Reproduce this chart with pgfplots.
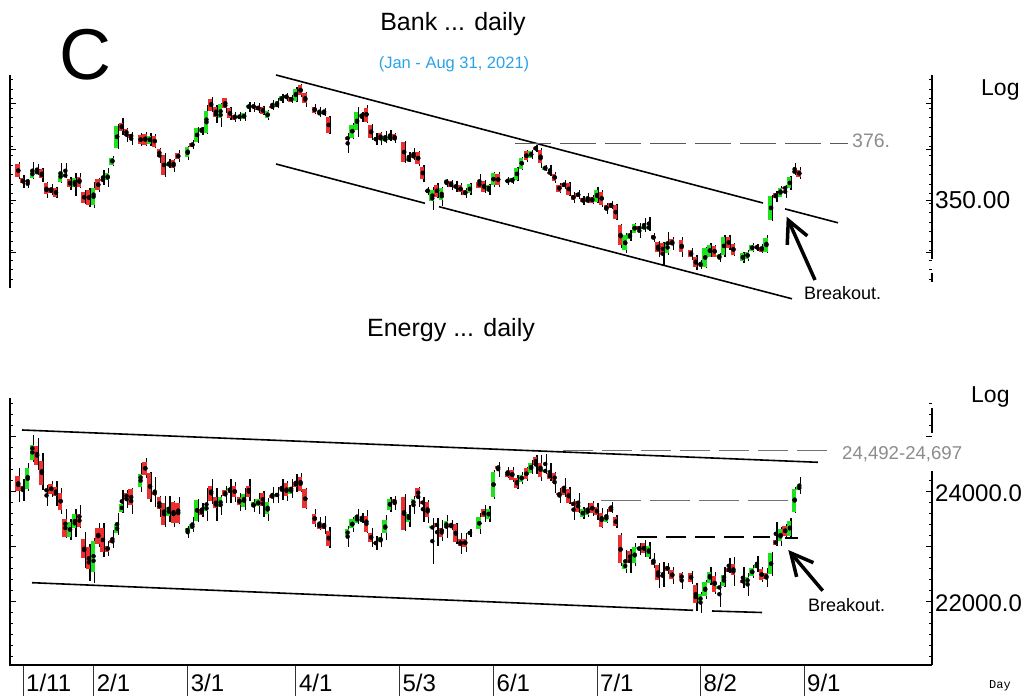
\documentclass[border=0pt]{standalone}
\usepackage{pgfplots}
\pgfplotsset{compat=1.18}
\usepackage{pgfplotstable}
\usetikzlibrary{arrows.meta}
\usepackage{fontspec}
\setmainfont{Liberation Sans}
\newfontfamily\daymono{Liberation Mono}
\definecolor{cred}{RGB}{236,48,48}
\definecolor{cgreen}{RGB}{30,226,30}
\definecolor{lblue}{RGB}{41,163,232}
\definecolor{lgray}{RGB}{140,140,140}

\pgfplotstableread{
i O H L C
-1 366.9 367.8 359.9 361.0
0 360.3 361.8 355.8 357.9
1 359.3 359.9 355.5 358.4
2 360.3 367.8 359.9 364.2
3 362.6 366.9 361.8 363.7
4 364.5 365.3 358.4 360.3
5 357.9 358.4 351.1 352.7
6 355.5 357.7 352.4 353.2
7 355.5 356.0 351.1 351.6
8 358.7 367.3 357.9 363.4
9 361.4 367.3 360.3 361.8
10 359.9 361.0 354.7 356.3
11 356.3 362.6 352.0 360.5
12 361.0 362.6 355.8 356.3
13 353.9 354.7 348.0 348.7
14 354.7 355.5 346.8 347.6
15 347.6 358.7 346.4 355.5
16 359.9 360.5 353.9 354.7
17 359.9 364.2 357.1 359.0
18 359.5 365.0 356.3 362.6
19 366.6 371.0 366.2 370.0
20 374.5 385.8 374.1 385.1
21 386.3 388.9 380.7 382.6
22 383.6 384.2 377.6 380.4
23 381.1 382.0 376.0 379.5
25 380.7 381.5 375.7 376.3
26 381.1 382.3 375.7 376.0
27 376.3 381.5 375.7 380.4
28 380.4 381.1 374.7 375.2
29 374.1 374.7 367.4 370.5
30 371.3 372.1 361.0 361.8
31 366.2 369.4 365.0 367.4
32 368.9 369.4 363.4 365.3
33 372.1 373.7 367.8 369.4
35 370.5 375.7 368.9 375.2
36 376.8 378.4 374.1 375.2
37 377.6 384.7 376.8 383.9
38 382.3 384.7 380.7 384.2
39 381.5 394.9 381.1 392.1
40 397.8 398.9 391.8 392.1
41 394.1 394.9 386.3 389.4
42 388.6 395.7 384.7 395.3
43 398.1 398.4 391.0 393.4
44 393.4 394.1 387.8 388.6
45 390.2 391.8 387.0 387.8
46 389.9 391.5 387.4 388.6
47 388.3 391.8 387.4 391.0
48 393.4 396.5 391.8 394.9
49 393.7 396.5 391.8 394.9
50 394.6 395.7 391.0 392.6
51 394.1 394.6 390.2 390.5
52 388.6 392.6 387.8 392.1
53 394.6 397.3 392.6 393.4
54 394.1 398.1 393.4 395.7
55 396.8 400.0 395.7 399.3
56 399.7 400.5 396.8 398.1
57 398.9 399.7 395.7 396.5
58 396.8 403.6 396.5 402.5
59 404.4 404.7 398.9 399.7
60 400.5 401.0 394.1 395.7
62 394.1 395.3 390.5 391.0
63 390.5 394.1 389.4 391.5
64 390.8 393.7 389.9 391.4
65 389.4 389.9 381.1 381.5
69 380.0 381.5 372.1 378.4
70 379.5 386.3 378.9 385.5
71 383.1 394.1 379.9 391.8
72 389.4 391.8 387.0 390.5
73 393.7 394.9 386.3 387.0
74 385.5 385.8 378.4 379.2
75 378.2 381.5 376.0 379.5
76 381.5 382.3 376.0 378.4
77 377.9 382.6 376.8 379.2
78 378.4 383.1 377.9 380.4
79 381.1 381.5 376.8 378.4
81 377.6 377.9 367.4 367.8
82 368.4 372.8 367.8 369.7
83 371.6 374.5 368.9 369.7
84 372.8 373.2 366.2 366.9
85 365.8 366.6 358.7 359.9
86 354.7 356.3 352.4 353.9
87 349.5 356.3 345.3 354.7
88 357.1 357.9 350.8 351.6
89 350.0 356.3 347.3 355.8
90 357.9 359.9 356.3 359.5
91 359.0 359.5 354.7 356.3
92 357.1 359.0 353.9 355.5
93 357.1 357.9 352.4 353.6
94 354.7 355.5 351.1 352.4
95 353.2 357.9 352.4 357.4
97 358.7 362.2 355.5 355.8
98 359.0 359.5 353.2 353.9
99 354.3 357.4 352.4 357.1
100 357.1 363.4 356.3 362.6
101 362.2 363.1 356.3 357.1
103 358.4 361.0 357.1 359.5
104 358.7 361.0 357.4 360.3
105 359.5 365.8 359.0 365.0
106 364.7 370.5 364.2 370.0
107 373.2 373.7 368.1 368.9
108 370.0 373.7 369.4 373.2
109 375.2 376.0 372.8 373.7
110 373.7 374.5 365.0 367.4
111 364.5 366.6 363.9 365.3
112 363.4 366.6 361.4 362.3
113 362.3 363.4 357.9 359.1
114 357.1 357.9 353.5 353.9
115 357.9 359.5 355.1 356.3
116 357.9 358.7 351.9 352.4
117 352.4 353.9 348.7 350.0
118 353.5 354.7 350.3 351.6
119 350.8 351.9 347.6 349.2
120 350.3 353.2 348.4 349.2
121 351.3 352.4 348.1 348.7
122 349.2 356.3 348.4 354.7
123 353.9 354.7 346.8 347.6
124 347.6 348.4 343.4 345.3
125 348.4 349.7 345.6 346.1
126 347.6 348.1 340.5 340.9
127 338.2 338.6 327.2 328.7
128 326.4 334.2 325.1 333.4
129 331.4 335.8 330.7 334.2
130 334.5 339.3 334.2 338.6
131 337.7 339.0 331.9 335.8
132 336.6 341.3 335.0 337.4
133 336.1 342.1 335.5 337.7
134 333.4 334.2 330.3 331.4
135 330.3 330.7 323.2 325.5
136 329.8 330.3 318.8 324.0
137 324.8 335.0 324.0 330.3
138 331.4 332.6 326.4 328.7
140 331.1 332.6 322.9 325.5
142 326.4 327.2 321.6 323.2
143 323.2 324.0 316.9 318.5
144 319.3 321.6 317.2 320.3
145 318.5 327.9 317.7 327.2
146 323.2 329.5 322.9 328.7
147 328.2 328.7 322.9 323.2
148 322.9 324.8 320.8 324.0
149 324.0 333.4 323.2 332.6
150 332.6 333.4 326.4 327.2
151 329.2 329.8 323.5 324.0
153 321.3 325.5 320.1 324.8
154 322.0 326.4 321.3 325.5
155 326.0 329.5 325.5 328.7
156 328.2 329.2 326.0 327.2
157 327.9 329.2 325.1 325.5
158 325.5 333.4 325.1 331.9
159 340.5 352.4 340.2 351.9
160 353.5 354.4 349.2 350.8
161 351.6 356.6 351.3 355.5
162 356.3 357.1 350.8 355.1
163 355.5 361.4 354.7 360.7
164 362.9 367.4 361.8 363.9
165 364.2 365.5 359.8 361.0
}\bank

\pgfplotstableread{
i O H L C
-1 24285 24425 23818 24018
0 24104 24225 23836 24018
1 24044 24516 24018 24425
2 24576 25031 24545 24849
3 24831 24971 24395 24485
4 24564 24709 24031 24122
5 24044 24122 23740 24007
6 24140 24200 23909 23958
7 24080 24200 23740 23922
8 23982 24062 23595 23667
9 23498 23680 23153 23182
10 23171 23498 23122 23455
11 23335 23680 23171 23595
12 23595 23758 23335 23353
13 23135 23273 22607 22789
14 22989 23049 22382 22589
15 22546 23153 22335 23109
16 23335 23426 23000 23049
17 23335 23426 22818 22909
18 23013 23109 22831 22909
19 23122 23304 22971 23073
20 23244 23607 23213 23413
21 23636 24031 23618 23776
22 23982 24031 23698 23862
23 24044 24062 23595 23758
25 24080 24516 24000 24322
26 24545 24607 24244 24304
27 24335 24364 23818 23862
28 24000 24273 23727 23940
29 23898 23922 23546 23680
30 23789 23922 23353 23395
31 23558 23922 23455 23716
32 23818 23836 23353 23436
33 23789 23898 23413 23436
35 23273 23376 23153 23335
36 23316 23535 23273 23413
37 23473 23862 23455 23849
38 23680 23800 23546 23576
39 23655 24062 23473 23740
40 24104 24225 23776 23836
41 23898 24062 23473 23698
42 23716 23940 23576 23898
43 24031 24104 23800 23922
44 24018 24225 23800 24062
45 24104 24182 23818 23909
46 23909 23982 23655 23758
47 23716 24062 23667 23958
48 24104 24225 23836 23898
49 23716 23862 23636 23818
50 23740 23982 23595 23862
51 23982 24018 23546 23740
52 23595 23880 23473 23818
53 23940 24091 23789 23880
54 23922 24091 23789 23958
55 24091 24225 23849 24044
56 24153 24200 23836 23922
57 23958 24225 23880 24080
58 24182 24322 24000 24091
59 24273 24345 24000 24018
60 24044 24062 23680 23698
62 23595 23680 23353 23413
63 23436 23535 23304 23316
64 23413 23558 23231 23316
65 23291 23353 22971 23013
69 23195 23376 22989 23316
70 23335 23535 23273 23498
71 23436 23680 23413 23558
72 23473 23607 23436 23498
73 23558 23667 23244 23273
74 23255 23335 23000 23091
75 23073 23195 22940 23055
76 23091 23244 22989 23182
77 23244 23576 23122 23486
78 23667 23909 23636 23862
79 23862 23922 23667 23789
81 23898 23958 23291 23304
82 23455 23758 23353 23595
83 23758 23922 23595 23862
84 24062 24091 23716 23898
85 23818 23909 23455 23789
86 23818 23849 23436 23535
87 23335 23516 22686 23364
88 23436 23516 23013 23353
89 23335 23486 23109 23182
90 23335 23576 23153 23473
91 23395 23486 23304 23353
92 23413 23426 23049 23091
93 23135 23244 22867 23013
94 23135 23244 22909 23000
95 23231 23316 23182 23273
97 23316 23618 23231 23535
98 23680 23758 23455 23535
99 23498 23740 23455 23680
100 23898 24395 23862 24364
101 24455 24545 24273 24425
103 24364 24455 24244 24273
104 24395 24455 24182 24213
105 24244 24304 24044 24062
106 24182 24364 24140 24304
107 24425 24455 24200 24225
108 24345 24576 24322 24516
109 24625 24667 24322 24485
110 24527 24667 24200 24273
111 24358 24685 24322 24395
112 24345 24516 24200 24225
113 24345 24364 23982 24164
114 23971 24062 23800 23940
115 24091 24244 23898 23940
116 24044 24091 23776 23789
117 23818 23862 23486 23740
118 23836 23982 23618 23636
119 23535 23727 23498 23680
120 23576 23800 23546 23698
121 23789 23836 23558 23618
122 23727 23800 23486 23576
123 23618 23698 23335 23353
124 23455 23680 23426 23576
125 23716 23818 23607 23636
126 23535 23576 23335 23376
127 23213 23244 22649 22698
128 22589 22940 22527 22709
129 22927 22953 22527 22709
130 22698 23062 22649 22989
131 22953 23073 22849 22989
132 23073 23122 22807 22880
133 22807 23091 22771 23013
134 22758 22880 22607 22667
135 22667 22709 22244 22395
136 22486 22727 22273 22455
137 22649 22709 22504 22564
138 22577 22636 22322 22407
140 22516 22546 22226 22395
142 22527 22564 22322 22364
143 22304 22335 21837 21971
144 21971 22182 21789 22140
145 22104 22395 22044 22364
146 22335 22626 22304 22546
147 22467 22546 22140 22182
148 22244 22364 21909 22273
149 22286 22626 22262 22486
150 22607 22789 22516 22546
151 22686 22818 22286 22486
153 22395 22626 22244 22346
154 22322 22527 22104 22455
155 22467 22667 22426 22607
156 22607 22831 22546 22686
157 22589 22626 22364 22395
158 22516 22607 22273 22407
159 22504 22909 22467 22880
160 23122 23455 23013 23031
161 23109 23364 23013 23316
162 23376 23413 23171 23195
163 23195 23516 23171 23473
164 23636 24091 23618 24044
165 24031 24262 23958 24104
}\energy

\pgfplotsset{
  wick/.style={only marks, mark=none,
    error bars/y dir=both, error bars/y explicit, error bars/error mark=none,
    error bars/error bar style={black, line width=1.3pt, xshift=1.1pt}},
  body/.style={only marks, mark=none,
    error bars/y dir=both, error bars/y explicit, error bars/error mark=none,
    error bars/error bar style={#1, line width=4.2pt, xshift=-0.8pt}},
}

\begin{document}
\begin{tikzpicture}[x=1pt,y=1pt]
\path[use as bounding box] (0,0) rectangle (1026,696);

% ---------------- Bank panel ----------------
\begin{axis}[
  at={(10pt,408pt)}, anchor=south west, scale only axis,
  width=922pt, height=213pt,
  xmin=-2.763, xmax=193.2, ymin=308.4, ymax=409.1,
  axis line style={draw=none},
  xtick=\empty,
  ytick={350}, yticklabels={350.00},
  minor ytick={312.5,317,...,408},
  extra y ticks={325.4,373.7,395.9}, extra y tick labels={},
  ytick pos=both, yticklabel pos=right,
  tick align=inside,
  major tick length=6pt, minor tick length=3.5pt,
  tick style={black, line width=0.8pt},
  yticklabel style={anchor=base west, inner sep=0pt, xshift=3pt, yshift=-8.3pt,
    font=\fontsize{24.5}{28}\selectfont},
  clip=false,
]
\addplot[wick] table[x=i, y expr={(\thisrow{H}+\thisrow{L})/2},
  y error expr={(\thisrow{H}-\thisrow{L})/2}] {\bank};
\addplot[restrict expr to domain={\thisrow{C}-\thisrow{O}}{-1000:-0.001}, body=cred]
  table[x=i, y expr={(\thisrow{O}+\thisrow{C})/2},
  y error expr={max(abs(\thisrow{C}-\thisrow{O})/2,0.5)}] {\bank};
\addplot[restrict expr to domain={\thisrow{C}-\thisrow{O}}{0:1000}, body=cgreen]
  table[x=i, y expr={(\thisrow{O}+\thisrow{C})/2},
  y error expr={max(abs(\thisrow{C}-\thisrow{O})/2,0.5)}] {\bank};
\end{axis}

% ---------------- Energy panel ----------------
\begin{axis}[
  at={(10pt,31pt)}, anchor=south west, scale only axis,
  width=922pt, height=267pt,
  xmin=-2.763, xmax=193.2, ymin=20849, ymax=25703,
  axis line style={draw=none},
  xtick={0,15,35,58,80,100,122,144,166},
  xticklabels={1/11,2/1,3/1,4/1,5/3,6/1,7/1,8/2,9/1},
  xtick pos=left, xtick align=outside,
  x tick style={/pgfplots/major tick length=31pt, black!80, line width=0.9pt},
  xticklabel style={anchor=base west, inner sep=0pt, xshift=3pt, yshift=-21pt,
    font=\fontsize{24}{28}\selectfont},
  ytick={22000,24000}, yticklabels={22000.0,24000.0},
  minor ytick={21000,21200,...,25600},
  extra y ticks={23000,25000}, extra y tick labels={},
  ytick pos=both, yticklabel pos=right, ytick align=inside,
  major tick length=6pt, minor tick length=3.5pt,
  y tick style={black, line width=0.8pt},
  yticklabel style={anchor=base west, inner sep=0pt, xshift=3pt, yshift=-9.5pt,
    font=\fontsize{24}{28}\selectfont},
  scaled y ticks=false,
  clip=false,
]
\addplot[wick] table[x=i, y expr={(\thisrow{H}+\thisrow{L})/2},
  y error expr={(\thisrow{H}-\thisrow{L})/2}] {\energy};
\addplot[restrict expr to domain={\thisrow{C}-\thisrow{O}}{-100000:-0.01}, body=cred]
  table[x=i, y expr={(\thisrow{O}+\thisrow{C})/2},
  y error expr={max(abs(\thisrow{C}-\thisrow{O})/2,19)}] {\energy};
\addplot[restrict expr to domain={\thisrow{C}-\thisrow{O}}{0:100000}, body=cgreen]
  table[x=i, y expr={(\thisrow{O}+\thisrow{C})/2},
  y error expr={max(abs(\thisrow{C}-\thisrow{O})/2,19)}] {\energy};
\end{axis}

% ---------------- frame lines ----------------
\draw[black, line width=1.2pt] (10,621) -- (10,408);
\draw[black, line width=1.2pt] (932,621) -- (932,437);
\draw[black, line width=1.2pt] (932,423) -- (932,414);
\draw[black, line width=1.2pt] (10,298) -- (10,31) -- (932,31);
\draw[black, line width=1.2pt] (932,288) -- (932,263);
\draw[black, line width=1.2pt] (932,226) -- (932,31);

% ---------------- Bank annotations ----------------
\draw[black, line width=1.6pt] (276,621) -- (763,493);
\draw[black, line width=1.6pt] (785,487.1) -- (838,473.2);
\draw[black, line width=1.6pt] (276,532) -- (425,492.7);
\draw[black, line width=1.6pt] (439,489.3) -- (792,397.2);
\draw[black!65, line width=1.3pt, dash pattern=on 36pt off 9pt] (515,552.5) -- (848,552.5);
\draw[black, line width=3.5pt, -{Straight Barb[length=22pt,width=22pt]}] (815,416) -- (786.7,479.3);

% ---------------- Energy annotations ----------------
\draw[black, line width=1.6pt] (22,266) -- (818,233.7);
\draw[black, line width=1.6pt] (32,113.3) -- (693,85.7);
\draw[black, line width=1.6pt] (712,85) -- (762,83.5);
\draw[black!55, line width=1.3pt, dash pattern=on 30pt off 9pt] (563,245.3) -- (833,245.3);
\draw[black!55, line width=1.3pt, dash pattern=on 40pt off 9pt] (601,195.3) -- (791,195.3);
\draw[black, line width=2pt, dash pattern=on 20pt off 9pt] (637,158.5) -- (770,158.5);
\draw[black, line width=1.6pt] (785,158) -- (798,158);
\draw[black, line width=3.5pt, -{Straight Barb[length=22pt,width=22pt]}] (822.7,105.3) -- (788.3,146);

% ---------------- texts ----------------
\node[anchor=base, inner sep=0pt, font=\fontsize{25}{30}\selectfont] at (453,665) {Bank ... daily};
\node[anchor=base, inner sep=0pt, text=lblue, font=\fontsize{16.5}{20}\selectfont] at (454,627) {(Jan - Aug 31, 2021)};
\node[anchor=base, inner sep=0pt, font=\fontsize{72}{80}\selectfont] at (85,616) {C};
\node[anchor=base west, inner sep=0pt, font=\fontsize{23}{28}\selectfont] at (981,600) {Log};
\node[anchor=base, inner sep=0pt, font=\fontsize{25}{30}\selectfont] at (451,359) {Energy ... daily};
\node[anchor=base west, inner sep=0pt, font=\fontsize{23}{28}\selectfont] at (971,293) {Log};
\node[anchor=base west, inner sep=0pt, text=lgray, font=\fontsize{19.5}{24}\selectfont] at (852,548.7) {376.};
\node[anchor=base west, inner sep=0pt, font=\fontsize{18}{22}\selectfont] at (804,396) {Breakout.};
\node[anchor=base west, inner sep=0pt, font=\fontsize{18}{22}\selectfont] at (808,84.3) {Breakout.};
\node[anchor=base west, inner xsep=1pt, inner ysep=9pt, fill=white, text=lgray, font=\fontsize{18.6}{22}\selectfont] at (841,236) {24,492-24,697};
\node[anchor=base west, inner sep=0pt, font=\daymono\fontsize{12}{14}\selectfont] at (989,7) {Day};
\end{tikzpicture}
\end{document}
